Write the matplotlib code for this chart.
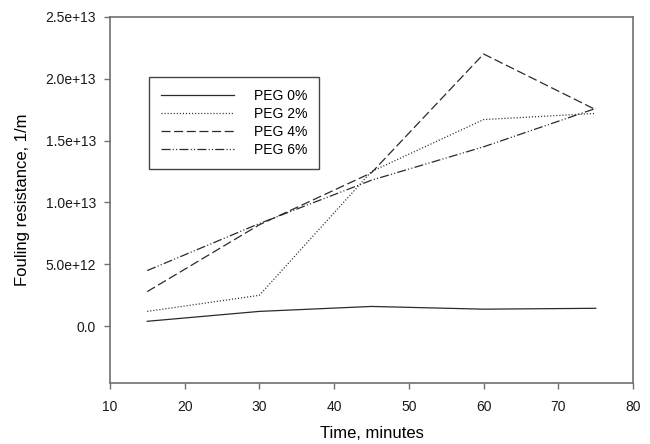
import matplotlib
matplotlib.use('Agg')
import matplotlib.pyplot as plt

plt.rcParams['font.family'] = ['Liberation Sans', 'DejaVu Sans']
plt.rcParams['lines.scale_dashes'] = False

# data
time_min = [15, 30, 45, 60, 75]
peg0 = [0.40e12, 1.20e12, 1.60e12, 1.38e12, 1.45e12]
peg2 = [1.20e12, 2.50e12, 1.25e13, 1.67e13, 1.72e13]
peg4 = [2.80e12, 8.20e12, 1.24e13, 2.20e13, 1.75e13]
peg6 = [4.50e12, 8.30e12, 1.18e13, 1.45e13, 1.76e13]
labels = ['PEG 0%', 'PEG 2%', 'PEG 4%', 'PEG 6%']

yticks = [0, 5e12, 1e13, 1.5e13, 2e13, 2.5e13]
ytick_labels = ['0.0', '5.0e+12', '1.0e+13', '1.5e+13', '2.0e+13', '2.5e+13']
xticks = [10, 20, 30, 40, 50, 60, 70, 80]

fig = plt.figure(figsize=(6.5, 4.44), dpi=100)
ax = fig.add_axes([0.169, 0.137, 0.805, 0.825])

lc = '#2a2a2a'
lw = 0.9
ax.plot(time_min, peg0, color=lc, lw=lw, linestyle='-', label=labels[0])
ax.plot(time_min, peg2, color=lc, lw=lw, linestyle=(0, (0.8, 1.4)), label=labels[1])
ax.plot(time_min, peg4, color=lc, lw=lw, linestyle=(0, (6.5, 2.6)), label=labels[2])
ax.plot(time_min, peg6, color=lc, lw=lw, linestyle=(0, (6.5, 1.6, 0.8, 1.6, 0.8, 1.6)), label=labels[3])

ax.set_xlim(10, 80)
ax.set_ylim(-4.6e12, 2.5e13)
ax.set_xticks(xticks)
ax.set_yticks(yticks)
ax.set_yticklabels(ytick_labels)

for s in ax.spines.values():
    s.set_color('#707070')
    s.set_linewidth(1.2)
ax.tick_params(direction='out', length=4, width=1, color='#707070',
               labelsize=10, labelcolor='#1a1a1a', pad=6)
ax.tick_params(axis='x', pad=8)

ax.set_xlabel('Time, minutes', fontsize=12, labelpad=9, color='#000000')
ax.set_ylabel('Fouling resistance, 1/m', fontsize=12, labelpad=11, color='#000000')

leg = ax.legend(loc='upper left', bbox_to_anchor=(0.0746, 0.835), fontsize=10,
                handlelength=5.3, handletextpad=1.4, labelspacing=0.28,
                borderpad=0.85, borderaxespad=0, fancybox=False, framealpha=1,
                edgecolor='#444444')
leg.get_frame().set_linewidth(1.0)

fig.savefig('out.png', dpi=100)
